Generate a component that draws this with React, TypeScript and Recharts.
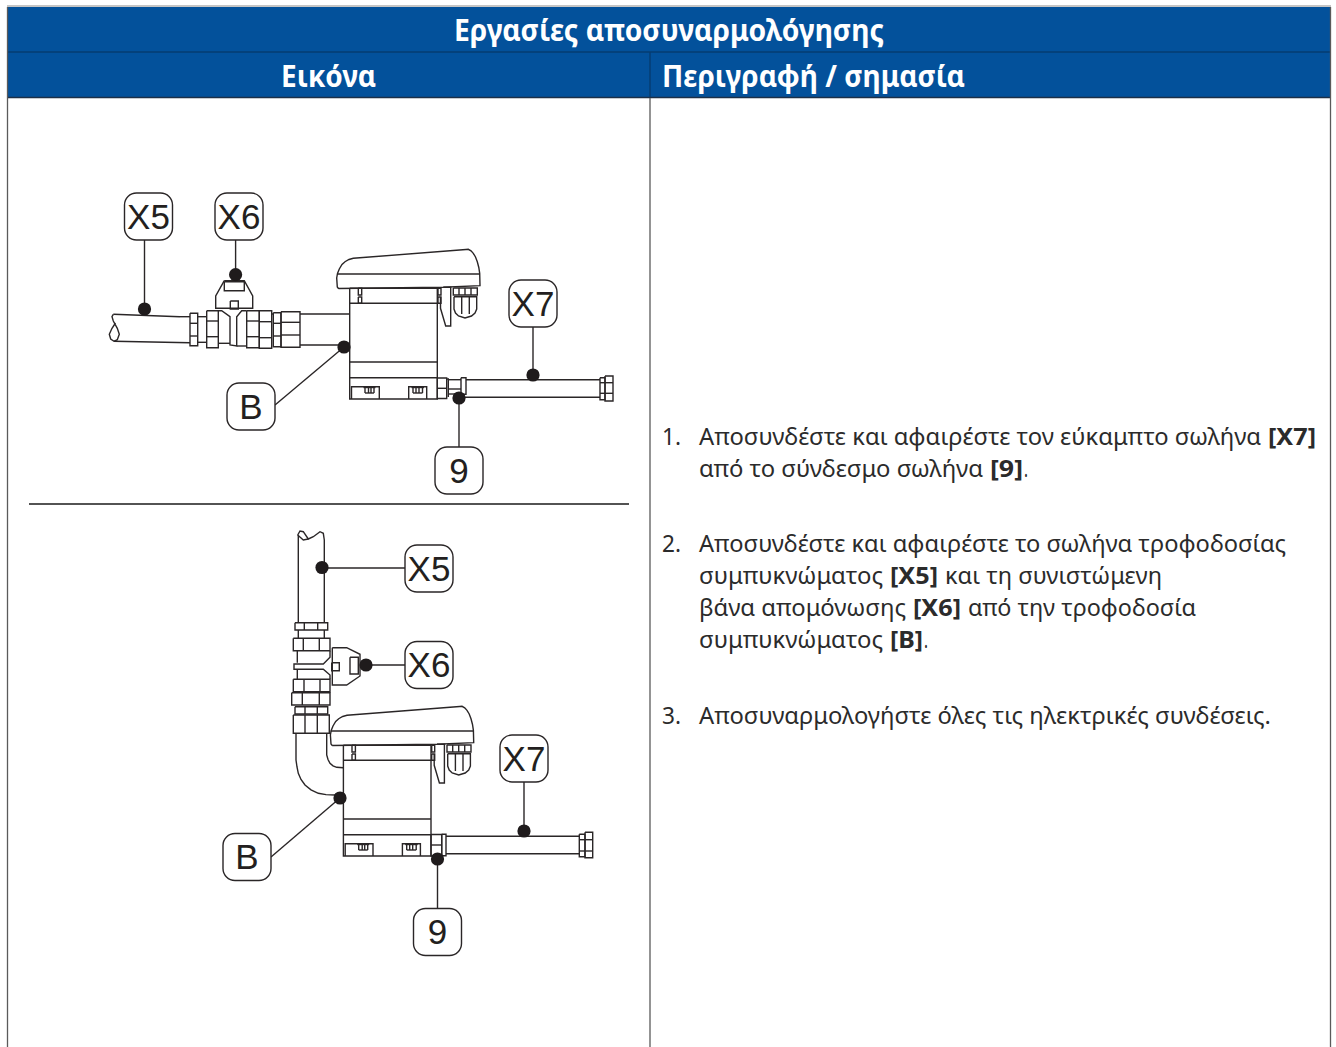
import { ScatterChart, Scatter, XAxis, YAxis, ReferenceArea, ReferenceLine } from 'recharts'

type Pt = [number, number]

const W = 1336
const H = 1047
const INK = '#2a2627'
const BLUE = '#03519b'

// header and step texts
const titleText = 'Εργασίες αποσυναρμολόγησης'
const columnHeads = ['Εικόνα', 'Περιγραφή / σημασία']
const stepNumbers = ['1.', '2.', '3.']
const stepNumberRows = [445, 552, 724]
const stepRuns: [string, boolean][] = [
  ['Αποσυνδέστε και αφαιρέστε τον εύκαμπτο σωλήνα', false],
  ['[X7]', true],
  ['από το σύνδεσμο σωλήνα', false],
  ['[9]', true],
  ['.', false],
  ['Αποσυνδέστε και αφαιρέστε το σωλήνα τροφοδοσίας', false],
  ['συμπυκνώματος', false],
  ['[X5]', true],
  ['και τη συνιστώμενη', false],
  ['βάνα απομόνωσης', false],
  ['[X6]', true],
  ['από την τροφοδοσία', false],
  ['συμπυκνώματος', false],
  ['[B]', true],
  ['.', false],
  ['Αποσυναρμολογήστε όλες τις ηλεκτρικές συνδέσεις.', false],
]
// x, baseline, width of each run above
const stepSpots: [number, number, number][] = [
  [699, 445, 562], [1268, 445, 48],
  [699, 477, 284], [990, 477, 33], [1024, 477, 4],
  [699, 552, 587],
  [699, 584, 184], [890, 584, 48], [945, 584, 217],
  [699, 616, 207], [913, 616, 48], [968, 616, 228],
  [699, 648, 184], [890, 648, 33], [924, 648, 4],
  [699, 724, 572],
]

const rect = (x0: number, y0: number, x1: number, y1: number): Pt[] => [
  [x0, y0], [x1, y0], [x1, y1], [x0, y1], [x0, y0],
]
const hCuts = (x0: number, x1: number, ys: number[]): Pt[][] => ys.map((y) => [[x0, y], [x1, y]])
const vCuts = (y0: number, y1: number, xs: number[]): Pt[][] => xs.map((x) => [[x, y0], [x, y1]])
const shift = (paths: Pt[][], dx: number, dy: number): Pt[][] =>
  paths.map((p) => p.map(([x, y]) => [x + dx, y + dy] as Pt))

// controller unit, drawn at its position in the upper figure
const unitPaths: Pt[][] = [
  [[338.5, 288.5], [337.3, 287], [336.7, 278], [337.5, 273.5], [339.3, 269], [342, 264.5], [345, 261.7], [349, 259.5], [353.3, 258.3], [466, 249.5], [468.3, 249.3], [471, 250.8], [473.3, 253.3], [475.5, 257], [477.3, 261.7], [478.8, 267.5], [479.7, 273.3], [480, 285.7], [443.3, 287.3], [338.5, 288.5]],
  [[337, 274], [479.7, 274]],
  rect(349.7, 288.3, 437.3, 399),
  [[349.7, 303.3], [437.3, 303.3]],
  [[349.7, 362], [437.3, 362]],
  [[349.7, 377.7], [437.3, 377.7]],
  rect(358.3, 288.3, 361.7, 295),
  rect(358.3, 297, 361.7, 303.3),
  rect(438, 288.3, 441, 295),
  rect(438, 297, 441, 303.3),
  [[443.3, 287.3], [450.7, 287.3], [450.7, 326], [445.7, 326], [440.5, 308.3], [440.5, 297]],
  rect(453.3, 288, 477.3, 295),
  ...vCuts(288, 295, [459, 465, 471]),
  [[454, 296.7], [476.7, 296.7], [476.7, 309], [475, 313], [471.5, 316], [465, 318], [458.5, 316], [455.5, 313], [454, 309], [454, 296.7]],
  ...vCuts(296.7, 314, [461.7, 469.3]),
  [[351.5, 399], [351.5, 386.7], [379.3, 386.7], [379.3, 399]],
  [[363.5, 387.5], [375.5, 387.5]],
  [[365, 393], [374, 393]],
  ...vCuts(387.5, 393, [365, 368.5, 371, 374]),
  [[408.7, 399], [408.7, 386.7], [426.7, 386.7], [426.7, 399]],
  [[411.5, 387.5], [424, 387.5]],
  [[413, 393], [422.5, 393]],
  ...vCuts(387.5, 393, [413, 416, 419, 422.5]),
]

// upper figure: horizontal feed pipe and isolation valve
const upperPipe: Pt[][] = [
  [[113.3, 314.3], [180, 316.7]],
  [[114, 341.3], [190, 342.7]],
  [[113.3, 314.3], [112, 316.7], [113.3, 321], [117.3, 328.3], [119.3, 334.3], [117.3, 339.7], [114, 341.3], [110.7, 339], [109.3, 334.3], [112, 328.3], [115.5, 323]],
  [[180, 316.7], [190, 316.7]],
  rect(190, 313.3, 197.7, 345.7),
  ...hCuts(190, 197.7, [323.3, 336]),
  [[197.7, 316.7], [206.7, 316.7]],
  [[197.7, 342.3], [206.7, 342.3]],
  rect(206.7, 310.7, 218.3, 347.7),
  ...hCuts(206.7, 218.3, [321, 336.7]),
  [[218.3, 310.7], [221.7, 310.7], [230, 316.7], [230, 345], [236.7, 346], [236.7, 316.7], [241.7, 310.7], [246.7, 310.7]],
  [[218.3, 343.3], [230, 343.3]],
  [[236.7, 346], [246.7, 346]],
  rect(246.7, 310.7, 259.3, 347.7),
  ...hCuts(246.7, 259.3, [321, 336.7]),
  rect(259.3, 310.7, 271.7, 348.3),
  ...hCuts(259.3, 271.7, [321.7, 337.7]),
  [[271.7, 314], [273.3, 314]],
  rect(273.3, 312.7, 281, 346.7),
  ...hCuts(273.3, 281, [323.3, 336]),
  rect(281, 311.7, 300, 347.3),
  ...hCuts(281, 300, [322.3, 335]),
  [[300, 314], [349.7, 314]],
  [[300, 345], [340, 345]],
  [[224.3, 280.7], [215.7, 296], [215.7, 308.3], [252.7, 308.3], [252.7, 296], [244.3, 280.7], [224.3, 280.7]],
  rect(224.3, 281.7, 244.3, 290.7),
  rect(230.3, 301, 238.3, 309),
]

// upper figure: flexible hose
const upperHose: Pt[][] = [
  rect(437.3, 378, 446.7, 398.5),
  [[437.3, 388.3], [446.7, 388.3]],
  [[446.7, 379], [448.3, 379], [448.3, 397]],
  [[448.3, 379.7], [461, 379.7]],
  [[448.3, 389], [461, 389]],
  [[448.3, 394], [461, 394]],
  rect(461, 377.7, 466, 394.3),
  [[466, 379.7], [600, 379.7]],
  [[463, 397.3], [600, 397.3]],
  rect(600, 377.7, 605, 399.7),
  rect(605, 376, 613, 401),
  ...hCuts(600, 613, [382.7, 393.3]),
]

// lower figure: riser, valve and elbow
const lowerPipe: Pt[][] = [
  [[297.7, 535], [300, 531], [303.3, 531.7], [308.3, 539], [313.3, 536.7], [320, 531.7], [323.3, 533.3], [324.3, 540]],
  [[297.7, 535], [303.3, 540], [308.3, 539]],
  [[298.3, 535], [298.3, 622.7]],
  [[324.3, 540], [324.3, 622.7]],
  rect(295, 622.7, 327.7, 630),
  ...vCuts(622.7, 630, [304.3, 317.7]),
  [[298.3, 630], [298.3, 638.3]],
  [[324.3, 630], [324.3, 638.3]],
  rect(293.3, 638.3, 330, 650.7),
  ...vCuts(638.3, 650.7, [303.3, 319.3]),
  [[297.3, 650.7], [297.3, 662.7]],
  [[330, 650.7], [330, 657.3], [323.3, 664], [294, 664], [294, 669.3], [323.3, 669.3], [330, 675], [330, 679.3]],
  [[297.3, 669.3], [297.3, 679.3]],
  rect(293.3, 679.3, 330, 691.7),
  ...vCuts(679.3, 691.7, [304, 320]),
  rect(291.7, 692.7, 330, 705),
  ...vCuts(692.7, 705, [302.3, 319.3]),
  rect(295, 706.7, 327.7, 714),
  ...vCuts(706.7, 714, [305, 317.3]),
  rect(293.3, 715, 329.3, 733.3),
  ...vCuts(715, 733.3, [305, 317.3]),
  [[296, 733.3], [296, 760], [297, 767], [298.3, 773.3], [301, 779.5], [305, 785], [311, 789.8], [318.3, 793.3], [326, 794.6], [335, 795]],
  [[326.7, 733.3], [326.7, 755], [328, 759.5], [330, 763.3], [333, 765.8], [336.7, 767.3], [343.3, 767.7]],
  [[332.3, 647.7], [346.7, 647.7], [360, 654.3], [360, 676], [346.7, 685], [332.3, 685], [332.3, 647.7]],
  rect(350, 657.3, 358.3, 674),
  rect(331.7, 662.7, 339.3, 670.7),
]

// lower figure: flexible hose
const lowerHose: Pt[][] = [
  rect(431, 834.5, 441.7, 856),
  [[431, 845], [441.7, 845]],
  rect(441.7, 834.3, 446, 855.7),
  [[446, 836.3], [579.3, 836.3]],
  [[446, 853.7], [579.3, 853.7]],
  rect(579.3, 834.3, 585, 856.7),
  rect(585, 832.3, 592.7, 857.7),
  ...hCuts(579.3, 592.7, [839.7, 851]),
]

const leaderLines: Pt[][] = [
  [[144.5, 240], [144.5, 309]],
  [[235.6, 240], [235.6, 275]],
  [[344, 347], [275, 405]],
  [[533, 327], [533, 375]],
  [[459, 398], [459, 447]],
  [[322, 568], [405, 568]],
  [[366, 665], [405, 665]],
  [[340, 798], [271, 857]],
  [[524, 782], [524, 831]],
  [[437.5, 859], [437.5, 908]],
]

const dotX = [144.5, 235.6, 344, 533, 459, 322, 366, 340, 524, 437.5]
const dotY = [309, 274.7, 347, 375, 398, 567.5, 665, 798, 831, 859]

const calloutLabels = ['X5', 'X6', 'B', 'X7', '9', 'X5', 'X6', 'B', 'X7', '9']
const calloutX = [148.5, 239, 251, 533, 459, 429, 429, 247, 524, 437.5]
const calloutY = [216.5, 216.5, 406.5, 303.5, 470.5, 568.5, 665, 857, 758.5, 932]

const linework: Pt[][] = [
  ...unitPaths,
  ...upperPipe,
  ...upperHose,
  ...shift(unitPaths, -6.3, 457),
  ...lowerPipe,
  ...lowerHose,
  ...leaderLines,
]

const toRows = (p: Pt[]) => p.map(([x, y]) => ({ x, y }))
const noMark = () => <g />

const Dot = ({ cx, cy }: any) => <circle cx={cx} cy={cy} r={6.6} fill="#1f1b1c" />

const Callout = ({ cx, cy, payload }: any) => (
  <g>
    <rect x={cx - 24} y={cy - 23.5} width={48} height={47} rx={12} fill="#fff" stroke={INK} strokeWidth={1.4} />
    <text x={cx} y={cy + 12} textAnchor="middle" fontFamily="Liberation Sans" fontSize={35} fill="#231f20">
      {payload.label}
    </text>
  </g>
)

const TextRun = ({ cx, cy, payload }: any) => (
  <text
    x={cx}
    y={cy}
    fontFamily="Noto Sans"
    fontSize={payload.size}
    fontWeight={payload.bold ? 700 : 400}
    fill={payload.color}
    textLength={payload.width}
    lengthAdjust="spacingAndGlyphs"
  >
    {payload.text}
  </text>
)

const bodyRuns = [
  ...stepNumbers.map((text, i) => ({ x: 662, y: stepNumberRows[i], text, bold: false, width: 19, size: 24, color: '#2b2b2b' })),
  ...stepRuns.map(([text, bold], i) => ({
    x: stepSpots[i][0],
    y: stepSpots[i][1],
    width: stepSpots[i][2],
    text,
    bold,
    size: 24,
    color: '#2b2b2b',
  })),
]

const headRuns = [
  { x: 454, y: 41, text: titleText, bold: true, width: 430, size: 30, color: '#fff' },
  { x: 281, y: 87, text: columnHeads[0], bold: true, width: 95, size: 30, color: '#fff' },
  { x: 662, y: 87, text: columnHeads[1], bold: true, width: 303, size: 30, color: '#fff' },
]

const callouts = calloutLabels.map((label, i) => ({ x: calloutX[i], y: calloutY[i], label }))
const dots = dotX.map((x, i) => ({ x, y: dotY[i] }))

export default function App() {
  return (
    <div style={{ position: 'absolute', left: 0, top: 0, width: W, height: H, background: '#fff' }}>
      <ScatterChart width={W} height={H} margin={{ top: 0, right: 0, bottom: 0, left: 0 }}>
        <XAxis type="number" dataKey="x" domain={[0, W]} hide />
        <YAxis type="number" dataKey="y" domain={[0, H]} reversed hide />

        <ReferenceArea x1={8} x2={1330} y1={7} y2={97} fill={BLUE} fillOpacity={1} stroke="none" />
        <ReferenceLine segment={[{ x: 7, y: 6 }, { x: 1331, y: 6 }]} stroke="#8c8c8c" strokeWidth={1.2} />
        <ReferenceLine segment={[{ x: 8, y: 52 }, { x: 1330, y: 52 }]} stroke="#063c70" strokeWidth={1.6} />
        <ReferenceLine segment={[{ x: 8, y: 97.5 }, { x: 1330, y: 97.5 }]} stroke="#1c3048" strokeWidth={1.4} />
        <ReferenceLine segment={[{ x: 650, y: 52 }, { x: 650, y: 97 }]} stroke="#063c70" strokeWidth={1.4} />
        <ReferenceLine segment={[{ x: 650, y: 98 }, { x: 650, y: 1047 }]} stroke="#5a5a5a" strokeWidth={1.3} />
        <ReferenceLine segment={[{ x: 7.5, y: 7 }, { x: 7.5, y: 1047 }]} stroke="#5a5a5a" strokeWidth={1.3} />
        <ReferenceLine segment={[{ x: 1330.5, y: 7 }, { x: 1330.5, y: 1047 }]} stroke="#5a5a5a" strokeWidth={1.3} />
        <ReferenceLine segment={[{ x: 29, y: 504 }, { x: 629, y: 504 }]} stroke="#1a1a1a" strokeWidth={1.4} />

        {linework.map((path, i) => (
          <Scatter
            key={i}
            data={toRows(path)}
            line={{ stroke: INK, strokeWidth: 1.4 }}
            shape={noMark}
            isAnimationActive={false}
          />
        ))}

        <Scatter data={dots} shape={Dot} isAnimationActive={false} />
        <Scatter data={callouts} shape={Callout} isAnimationActive={false} />
        <Scatter data={headRuns} shape={TextRun} isAnimationActive={false} />
        <Scatter data={bodyRuns} shape={TextRun} isAnimationActive={false} />
      </ScatterChart>
    </div>
  )
}
